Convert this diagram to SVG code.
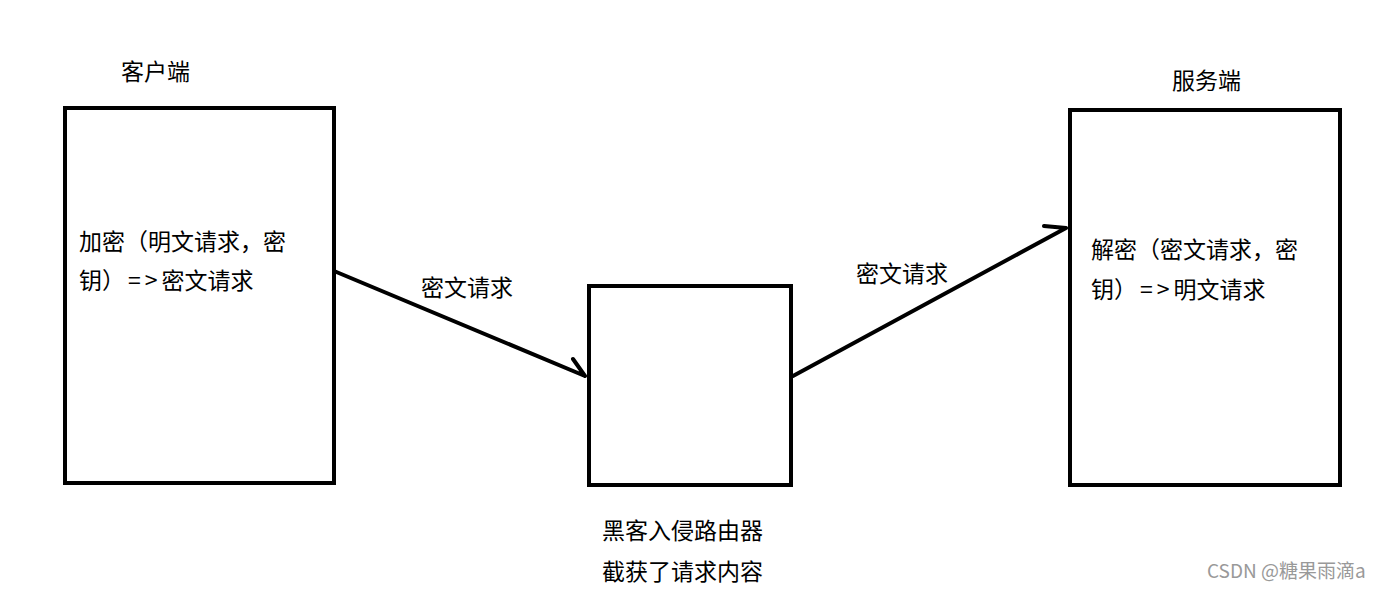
<svg xmlns="http://www.w3.org/2000/svg" width="1379" height="589" viewBox="0 0 1379 589">
<style>
.box{fill:none;stroke:#000;stroke-width:4}
.t{font-family:"Noto Sans CJK SC","Noto Sans",sans-serif;font-size:23px;fill:#000}
.sym{letter-spacing:4px}
.ln{fill:none;stroke:#000;stroke-width:4;stroke-linecap:round;stroke-linejoin:round}
.wm{font-family:"Noto Sans CJK SC","Liberation Sans",sans-serif;font-size:19px;fill:#999}
</style>
<rect width="1379" height="589" fill="#fff"/>
<g id="client">
<rect class="box" x="65" y="108" width="269" height="375"/>
<text class="t" x="121" y="80">客户端</text>
<text class="t" x="79" y="250">加密（明文请求，密</text>
<text class="t" x="79" y="289">钥）<tspan class="sym" dx="3">=&gt;</tspan>密文请求</text>
</g>
<g id="router">
<rect class="box" x="589" y="286" width="202" height="199"/>
<text class="t" x="602" y="539">黑客入侵路由器</text>
<text class="t" x="602" y="580">截获了请求内容</text>
</g>
<g id="server">
<rect class="box" x="1070" y="110" width="270" height="375"/>
<text class="t" x="1172" y="89">服务端</text>
<text class="t" x="1091" y="258">解密（密文请求，密</text>
<text class="t" x="1091" y="298">钥）<tspan class="sym" dx="3">=&gt;</tspan>明文请求</text>
</g>
<g id="connectors">
<path class="ln" d="M334,271 L585,376 M573,359 L585,376"/>
<text class="t" x="421" y="296">密文请求</text>
<path class="ln" d="M793,376 L1066,228 M1044,226 L1066,228"/>
<text class="t" x="856" y="282">密文请求</text>
</g>
<text class="wm" x="1207" y="578">CSDN @糖果雨滴a</text>
</svg>
